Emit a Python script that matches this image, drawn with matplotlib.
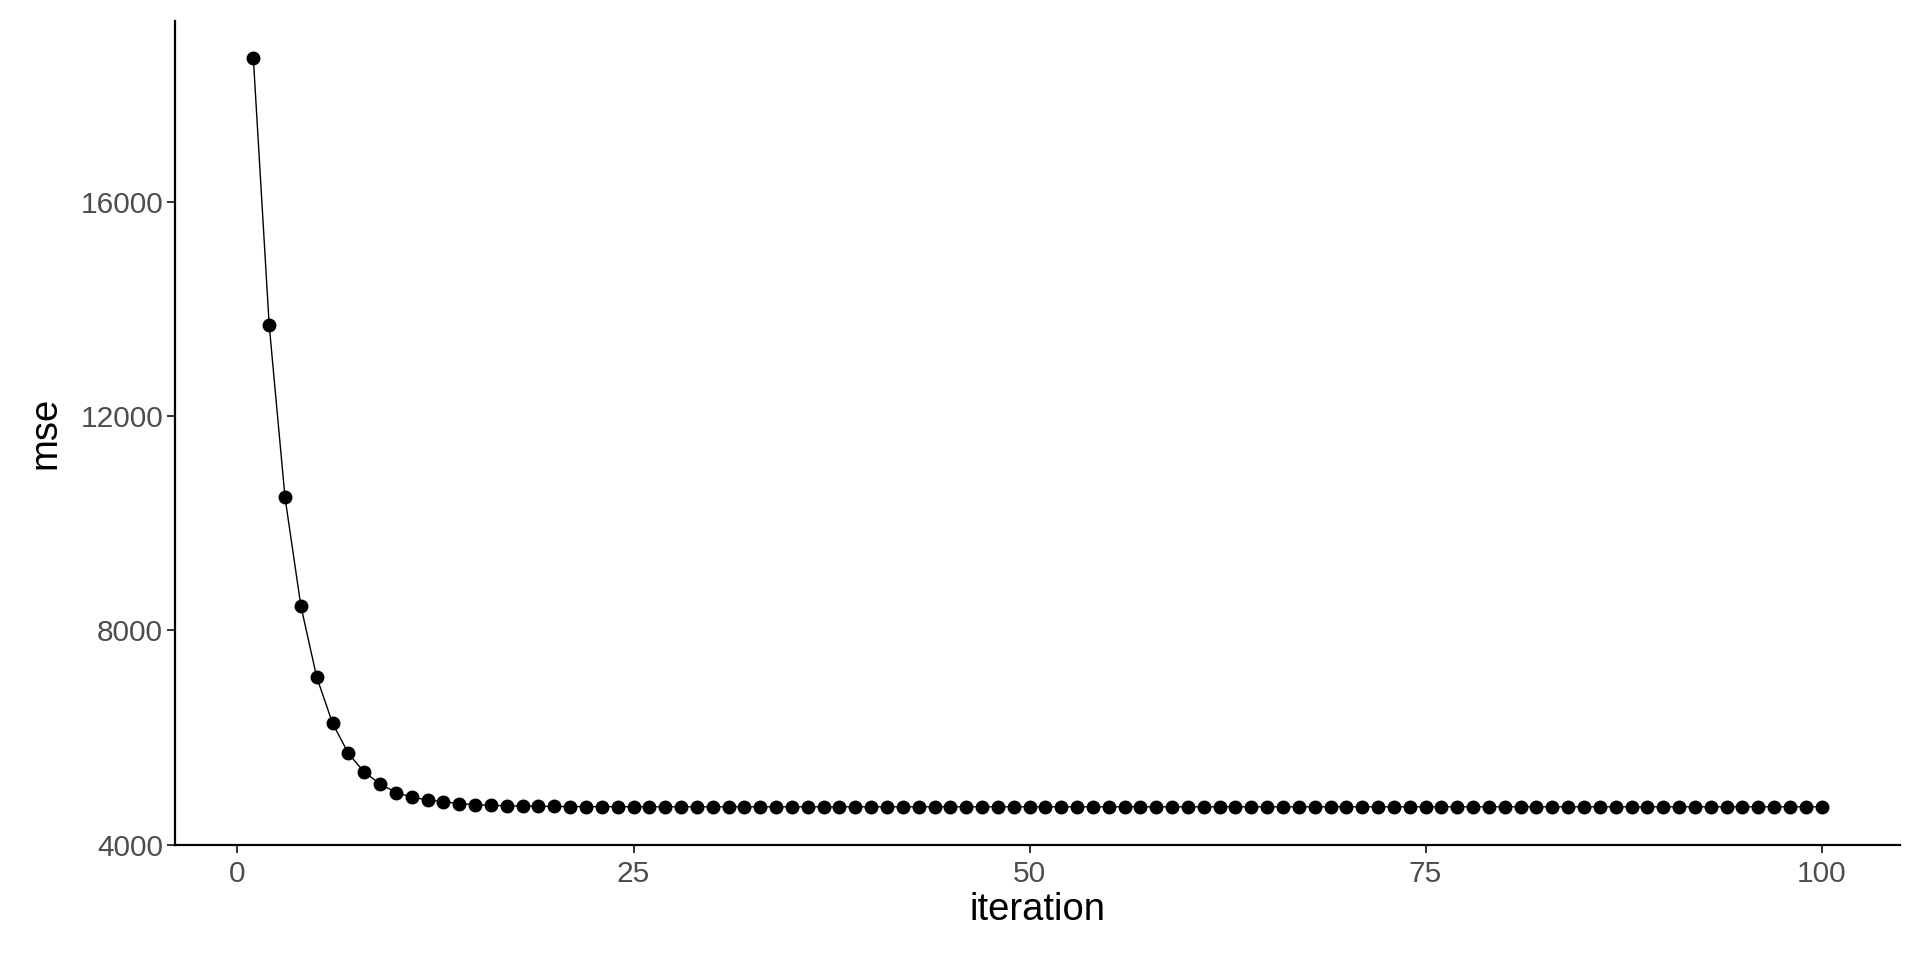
import matplotlib
matplotlib.use('Agg')
import matplotlib.pyplot as plt

# mse per iteration
iteration = list(range(1, 101))
mse = [18700, 13714, 10486, 8462, 7129, 6269, 5701, 5353, 5135, 4972,
       4884, 4835, 4800, 4765, 4745, 4732, 4724, 4718, 4714, 4711,
       4709, 4708, 4707, 4706, 4706, 4705, 4705, 4705, 4705, 4705,
       4705, 4705, 4705, 4705, 4705, 4705, 4705, 4705, 4705, 4705,
       4705, 4705, 4705, 4705, 4705, 4705, 4705, 4705, 4705, 4705,
       4705, 4705, 4705, 4705, 4705, 4705, 4705, 4705, 4705, 4705,
       4705, 4705, 4705, 4705, 4705, 4705, 4705, 4705, 4705, 4705,
       4705, 4705, 4705, 4705, 4705, 4705, 4705, 4705, 4705, 4705,
       4705, 4705, 4705, 4705, 4705, 4705, 4705, 4705, 4705, 4705,
       4705, 4705, 4705, 4705, 4705, 4705, 4705, 4705, 4705, 4705]
x_ticks = [0, 25, 50, 75, 100]
y_ticks = [4000, 8000, 12000, 16000]

plt.rcParams['font.family'] = ['Liberation Sans', 'DejaVu Sans']

fig = plt.figure(figsize=(19.2, 9.6), dpi=100)
ax = fig.add_axes([0.0911, 0.1203, 0.8985, 0.8583])

ax.plot(iteration, mse, color='black', linewidth=1.0, zorder=2)
ax.plot(iteration, mse, 'o', color='black', markersize=9, zorder=3)

# ggplot style 5% expansion
xr = max(iteration) - min(iteration)
yr = max(mse) - min(mse)
ax.set_xlim(min(iteration) - 0.05 * xr, max(iteration) + 0.05 * xr)
ax.set_ylim(min(mse) - 0.05 * yr, max(mse) + 0.05 * yr)

ax.set_xticks(x_ticks)
ax.set_yticks(y_ticks)
ax.tick_params(axis='both', which='major', labelsize=21.5, labelcolor='#4D4D4D',
               color='#333333', length=6, width=1.4, pad=2.5)
ax.tick_params(axis='x', pad=5)

for side in ['top', 'right']:
    ax.spines[side].set_visible(False)
for side in ['left', 'bottom']:
    ax.spines[side].set_linewidth(1.6)
    ax.spines[side].set_color('black')

ax.set_xlabel('iteration', fontsize=27.5, labelpad=3)
ax.set_ylabel('mse', fontsize=27.5, labelpad=12)

fig.savefig('out.png', dpi=100, facecolor='white')
